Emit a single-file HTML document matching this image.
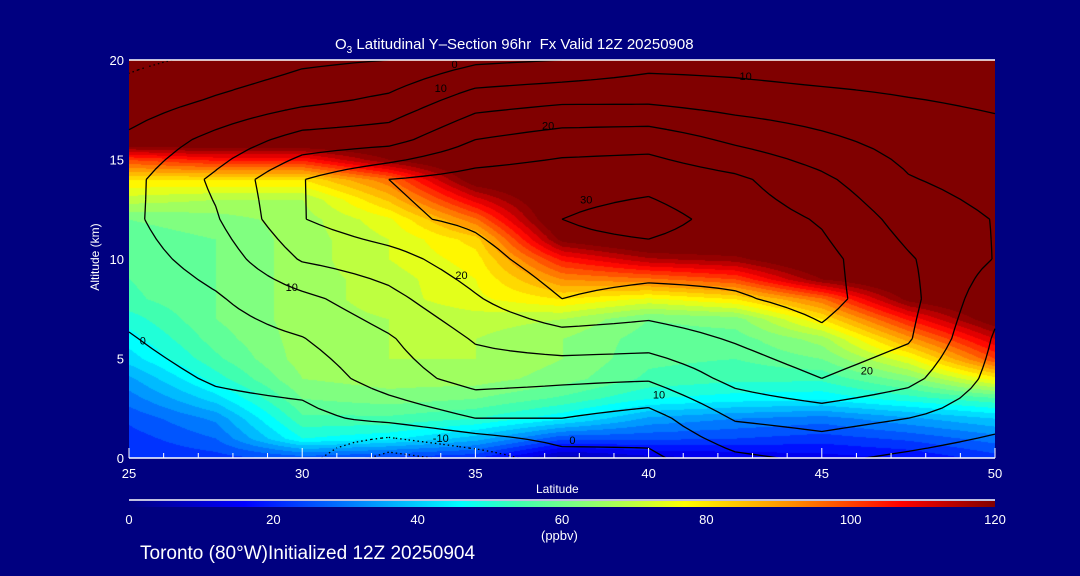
<!DOCTYPE html>
<html><head><meta charset="utf-8">
<style>
html,body{margin:0;padding:0;background:#000080;}
#wrap{position:relative;width:1080px;height:576px;background:#000080;overflow:hidden;font-family:"Liberation Sans",sans-serif;color:#fff;}
.t{position:absolute;white-space:nowrap;}
</style></head><body>
<div id="wrap">
<canvas id="plot" width="866" height="398" style="position:absolute;left:129px;top:60px"></canvas>
<svg id="ax" width="1080" height="576" style="position:absolute;left:0;top:0"></svg>
<div class="t" style="left:335px;top:36px;font-size:15px">O<sub style="font-size:10px">3</sub> Latitudinal Y&#8211;Section 96hr &nbsp;Fx Valid 12Z 20250908</div>
<div class="t" style="left:536px;top:482px;font-size:12px">Latitude</div>
<div class="t" style="left:40px;top:250px;font-size:12px;transform:rotate(-90deg);transform-origin:center;width:110px;text-align:center">Altitude (km)</div>
<div class="t" style="left:541px;top:528px;font-size:13px">(ppbv)</div>
<div class="t" style="left:140px;top:543px;font-size:19px">Toronto (80°W)Initialized 12Z 20250904</div>
</div>
<script>
const lats=[25,27.5,30,32.5,35,37.5,40,42.5,45,47.5,50];
const alts=[0,1,2,3,4,5,6,7,8,9,10,11,12,13,14,15,16,17,18,19,20];
const ozone=[
[20,22,25,22,20,5,10,12,14,16,22],
[22,28,48,45,38,25,25,24,22,25,30],
[25,33,55,55,52,45,35,32,30,35,40],
[30,42,60,62,60,55,48,46,45,50,55],
[35,50,64,66,66,62,55,53,53,62,78],
[42,55,66,68,68,64,57,56,60,75,100],
[46,58,66,68,68,64,58,58,66,90,112],
[50,60,66,68,70,68,60,62,80,105,125],
[55,60,66,70,75,80,75,80,95,122,130],
[56,60,66,70,76,92,95,100,120,130,130],
[57,60,66,72,78,105,115,118,130,130,130],
[58,60,66,72,82,122,130,130,130,130,130],
[60,62,66,75,95,130,130,130,130,130,130],
[70,68,68,85,110,130,130,130,130,130,130],
[80,80,80,95,125,130,130,130,130,130,130],
[100,105,105,120,130,130,130,130,130,130,130],
[130,130,130,130,130,130,130,130,130,130,130],
[130,130,130,130,130,130,130,130,130,130,130],
[130,130,130,130,130,130,130,130,130,130,130],
[130,130,130,130,130,130,130,130,130,130,130],
[130,130,130,130,130,130,130,130,130,130,130]];
const contourAlts=[0,2,4,6,8,10,12,14,16,18,20];
const contourField=[
[-4,-3,-3,-12,-8,-2,-1,4,6,4,2],
[-3,-2,-1.5,1.5,5,5,3,10.5,12,10,7],
[-2,0.5,1.8,7.5,12,11,10.5,16.5,20,16.5,8.5],
[-0.3,2.5,4.8,9.5,15.5,18,17.5,20.5,24,20.5,9.5],
[1.5,4.5,8.7,13.5,19.5,25,23,24.5,26.5,21.5,11.5],
[3,7,15.5,18,23,28,28,27,26.5,20.5,14.8],
[4,9.5,19.8,24,26,30,32,28,24.5,18,14.8],
[3.5,11,19.8,25,27,28,28.5,26,21,15.3,13],
[1,6.5,12,13,20,22.5,23,19,16,13,11.5],
[-3,0.5,3.5,6,12.5,14,14,12.5,11.5,10.2,9.2],
[-6,-4,-1,0,4,5,8,8,7,7,6]];
const contourLevels=[-10,-5,0,5,10,15,20,25,30];
const contourLabelText=["0","10","20","30","10","10","20","10","20","-10","0","0"];
const contourLabelLat=[25.4,29.7,34.6,38.2,34.0,42.8,37.1,40.3,46.3,34.0,37.8,34.4];
const contourLabelAlt=[5.9,8.6,9.2,13.0,18.6,19.2,16.7,3.2,4.4,1.0,0.9,19.8];
const xTicks=[25,30,35,40,45,50];
const yTicks=[0,5,10,15,20];
const cbTicks=[0,20,40,60,80,100,120];
const stops=[[0,[0,0,128]],[16,[0,0,255]],[46,[0,255,255]],[54,[64,255,176]],[62,[128,255,128]],[70,[190,255,64]],[77,[255,255,0]],[92,[255,140,0]],[107,[255,0,0]],[120,[128,0,0]]];
function cmap(v){if(v<=0)return stops[0][1];if(v>=120)return stops[stops.length-1][1];
for(let i=0;i<stops.length-1;i++){const a=stops[i],b=stops[i+1];if(v<=b[0]){const f=(v-a[0])/(b[0]-a[0]);return a[1].map((c,k)=>Math.round(c+(b[1][k]-c)*f));}}}
const PX=129,PW=866,PY=60,PH=398;
const xs=l=>PX+(l-25)/25*PW, ys=a=>PY+PH-(a/20)*PH;
function interp(grid,ya,lat,alt){
 let i=0;while(i<lats.length-2&&lat>lats[i+1])i++;
 let j=0;while(j<ya.length-2&&alt>ya[j+1])j++;
 const fx=Math.min(1,Math.max(0,(lat-lats[i])/(lats[i+1]-lats[i]))),fy=Math.min(1,Math.max(0,(alt-ya[j])/(ya[j+1]-ya[j])));
 const a=grid[j][i],b=grid[j][i+1],c=grid[j+1][i],d=grid[j+1][i+1];
 return (a*(1-fx)+b*fx)*(1-fy)+(c*(1-fx)+d*fx)*fy;}
const cv=document.getElementById('plot'),ctx=cv.getContext('2d');
const img=ctx.createImageData(PW,PH);
for(let y=0;y<PH;y++)for(let x=0;x<PW;x++){
 const lat=25+x/PW*25,alt=(PH-y)/PH*20;
 let v=interp(ozone,alts,lat,alt);v=Math.floor(v/4)*4+2;
 const c=cmap(v),k=(y*PW+x)*4;img.data[k]=c[0];img.data[k+1]=c[1];img.data[k+2]=c[2];img.data[k+3]=255;}
ctx.putImageData(img,0,0);
const svg=document.getElementById('ax'),NS='http://www.w3.org/2000/svg';
function el(t,at,txt){const e=document.createElementNS(NS,t);for(const k in at)e.setAttribute(k,at[k]);if(txt!==undefined)e.textContent=txt;svg.appendChild(e);return e;}
const NX=50,NY=40;
const sg=[];for(let j=0;j<=NY;j++){sg.push([]);for(let i=0;i<=NX;i++)sg[j].push(interp(contourField,contourAlts,25+25*i/NX,20*j/NY));}
contourLevels.forEach(L=>{
 let d='';
 for(let j=0;j<NY;j++)for(let i=0;i<NX;i++){
  const P=[[i,j,sg[j][i]],[i+1,j,sg[j][i+1]],[i+1,j+1,sg[j+1][i+1]],[i,j+1,sg[j+1][i]]];
  const pts=[];
  for(let e2=0;e2<4;e2++){const a=P[e2],b=P[(e2+1)%4];
   if((a[2]<L)!==(b[2]<L)){const f=(L-a[2])/(b[2]-a[2]);pts.push([a[0]+(b[0]-a[0])*f,a[1]+(b[1]-a[1])*f]);}}
  for(let k=0;k+1<pts.length;k+=2){const la=q=>25+25*q[0]/NX,al=q=>20*q[1]/NY;
   d+='M'+xs(la(pts[k])).toFixed(1)+' '+ys(al(pts[k])).toFixed(1)+'L'+xs(la(pts[k+1])).toFixed(1)+' '+ys(al(pts[k+1])).toFixed(1);}
 }
 if(d){const p=el('path',{d:d,fill:'none',stroke:'#000','stroke-width':1.3,'stroke-dasharray':L<0?'1.5 3':'none'});
 
 }
});
contourLabelText.forEach((t,i)=>{
 const tx=el('text',{x:xs(contourLabelLat[i]),y:ys(contourLabelAlt[i])+4,fill:'#000','font-size':11,'text-anchor':'middle','font-family':'Liberation Sans'},t);
 
 
});
let e=el('line',{x1:PX,y1:PY,x2:PX+PW,y2:PY,stroke:'#fff','stroke-width':1.5});

e=el('line',{x1:PX,y1:PY+PH,x2:PX+PW,y2:PY+PH,stroke:'#fff','stroke-width':1.5});

for(let l=25;l<=50;l++){const big=l%5===0;
 e=el('line',{x1:xs(l),y1:PY+PH,x2:xs(l),y2:PY+PH-(big?10:5),stroke:'#fff','stroke-width':1});
 }
xTicks.forEach(l=>{e=el('text',{x:xs(l),y:478,fill:'#fff','font-size':13,'text-anchor':'middle','font-family':'Liberation Sans'},String(l));
 });
yTicks.forEach(a=>{e=el('text',{x:124,y:ys(a)+5,fill:'#fff','font-size':13,'text-anchor':'end','font-family':'Liberation Sans'},String(a));
 });
const defs=el('defs',{});const g=document.createElementNS(NS,'linearGradient');g.setAttribute('id','cb');defs.appendChild(g);
stops.forEach(s=>{const st=document.createElementNS(NS,'stop');st.setAttribute('offset',(s[0]/120*100)+'%');st.setAttribute('stop-color','rgb('+s[1].join(',')+')');g.appendChild(st);});
e=el('line',{x1:PX,y1:500,x2:PX+PW,y2:500,stroke:'#fff','stroke-width':1.5});

e=el('rect',{x:PX,y:501,width:PW,height:6,fill:'url(#cb)'});

cbTicks.forEach(v=>{e=el('text',{x:PX+v/120*PW,y:524,fill:'#fff','font-size':13,'text-anchor':'middle','font-family':'Liberation Sans'},String(v));
 });
</script>
</body></html>
